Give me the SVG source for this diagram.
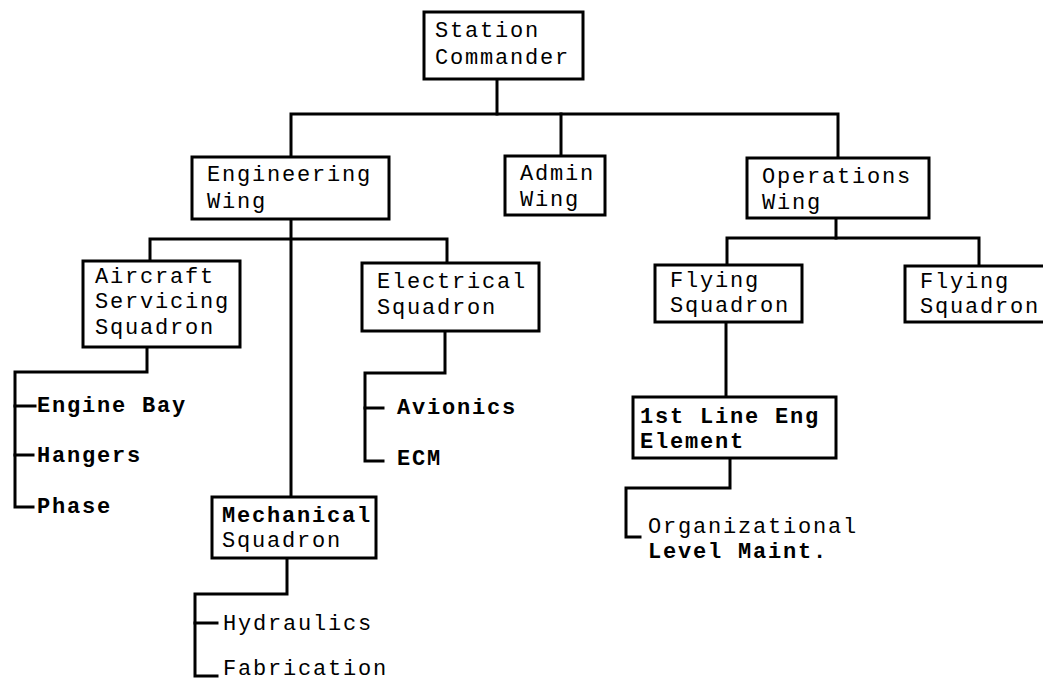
<svg xmlns="http://www.w3.org/2000/svg" width="1043" height="682" viewBox="0 0 1043 682">
<style>
  .box { fill: #ffffff; stroke: #000000; stroke-width: 3; }
  .conn { fill: none; stroke: #000000; stroke-width: 3; stroke-linecap: square; stroke-linejoin: miter; }
  .t { font-family: "Liberation Mono", "DejaVu Sans Mono", monospace; font-size: 22px; letter-spacing: 1.8px; fill: #000000; }
  .leaf { font-weight: bold; }
</style>
<rect width="1043" height="682" fill="#ffffff"/>
<g id="connectors">
  <path class="conn" d="M497,79 V114"/>
  <path class="conn" d="M291,157 V114 H838 V158"/>
  <path class="conn" d="M561,114 V156"/>
  <path class="conn" d="M291,219 V497"/>
  <path class="conn" d="M150,261 V239 H447 V263"/>
  <path class="conn" d="M147,347 V372 H15 V507 H33"/>
  <path class="conn" d="M15,406 H35"/>
  <path class="conn" d="M15,455 H33"/>
  <path class="conn" d="M445,331 V373 H365 V461 H383"/>
  <path class="conn" d="M365,408 H383"/>
  <path class="conn" d="M836,218 V238"/>
  <path class="conn" d="M727,265 V238 H979 V266"/>
  <path class="conn" d="M726,322 V397"/>
  <path class="conn" d="M730,458 V488 H626 V537 H640"/>
  <path class="conn" d="M287,558 V594 H195 V676 H217"/>
  <path class="conn" d="M195,623 H217"/>
</g>
<g id="station-commander">
  <rect class="box" x="424" y="12" width="159" height="67"/>
  <text class="t" x="435" y="37">Station</text>
  <text class="t" x="435" y="64">Commander</text>
</g>
<g id="engineering-wing">
  <rect class="box" x="192" y="157" width="197" height="62"/>
  <text class="t" x="207" y="181">Engineering</text>
  <text class="t" x="207" y="208">Wing</text>
</g>
<g id="admin-wing">
  <rect class="box" x="505" y="156" width="100" height="59"/>
  <text class="t" x="520" y="180">Admin</text>
  <text class="t" x="520" y="206">Wing</text>
</g>
<g id="operations-wing">
  <rect class="box" x="747" y="158" width="182" height="60"/>
  <text class="t" x="762" y="183">Operations</text>
  <text class="t" x="762" y="209">Wing</text>
</g>
<g id="aircraft-servicing-squadron">
  <rect class="box" x="83" y="261" width="157" height="86"/>
  <text class="t" x="95" y="283">Aircraft</text>
  <text class="t" x="95" y="308">Servicing</text>
  <text class="t" x="95" y="334">Squadron</text>
</g>
<g id="electrical-squadron">
  <rect class="box" x="362" y="263" width="177" height="68"/>
  <text class="t" x="377" y="288">Electrical</text>
  <text class="t" x="377" y="314">Squadron</text>
</g>
<g id="flying-squadron-1">
  <rect class="box" x="655" y="265" width="147" height="57"/>
  <text class="t" x="670" y="287">Flying</text>
  <text class="t" x="670" y="312">Squadron</text>
</g>
<g id="flying-squadron-2">
  <rect class="box" x="905" y="266" width="145" height="56"/>
  <text class="t" x="920" y="288">Flying</text>
  <text class="t" x="920" y="313">Squadron</text>
</g>
<g id="first-line-eng-element">
  <rect class="box" x="633" y="397" width="203" height="61"/>
  <text class="t leaf" x="640" y="423">1st Line Eng</text>
  <text class="t leaf" x="640" y="448">Element</text>
</g>
<g id="mechanical-squadron">
  <rect class="box" x="212" y="497" width="164" height="61"/>
  <text class="t leaf" x="222" y="522">Mechanical</text>
  <text class="t" x="222" y="547">Squadron</text>
</g>
<g id="engine-bay"><text class="t leaf" x="37" y="412">Engine Bay</text></g>
<g id="hangers"><text class="t leaf" x="37" y="462">Hangers</text></g>
<g id="phase"><text class="t leaf" x="37" y="513">Phase</text></g>
<g id="avionics"><text class="t leaf" x="397" y="414">Avionics</text></g>
<g id="ecm"><text class="t leaf" x="397" y="465">ECM</text></g>
<g id="hydraulics"><text class="t" x="223" y="630">Hydraulics</text></g>
<g id="fabrication"><text class="t" x="223" y="675">Fabrication</text></g>
<g id="organizational-level-maint">
  <text class="t" x="648" y="533">Organizational</text>
  <text class="t leaf" x="648" y="558">Level Maint.</text>
</g>
</svg>
